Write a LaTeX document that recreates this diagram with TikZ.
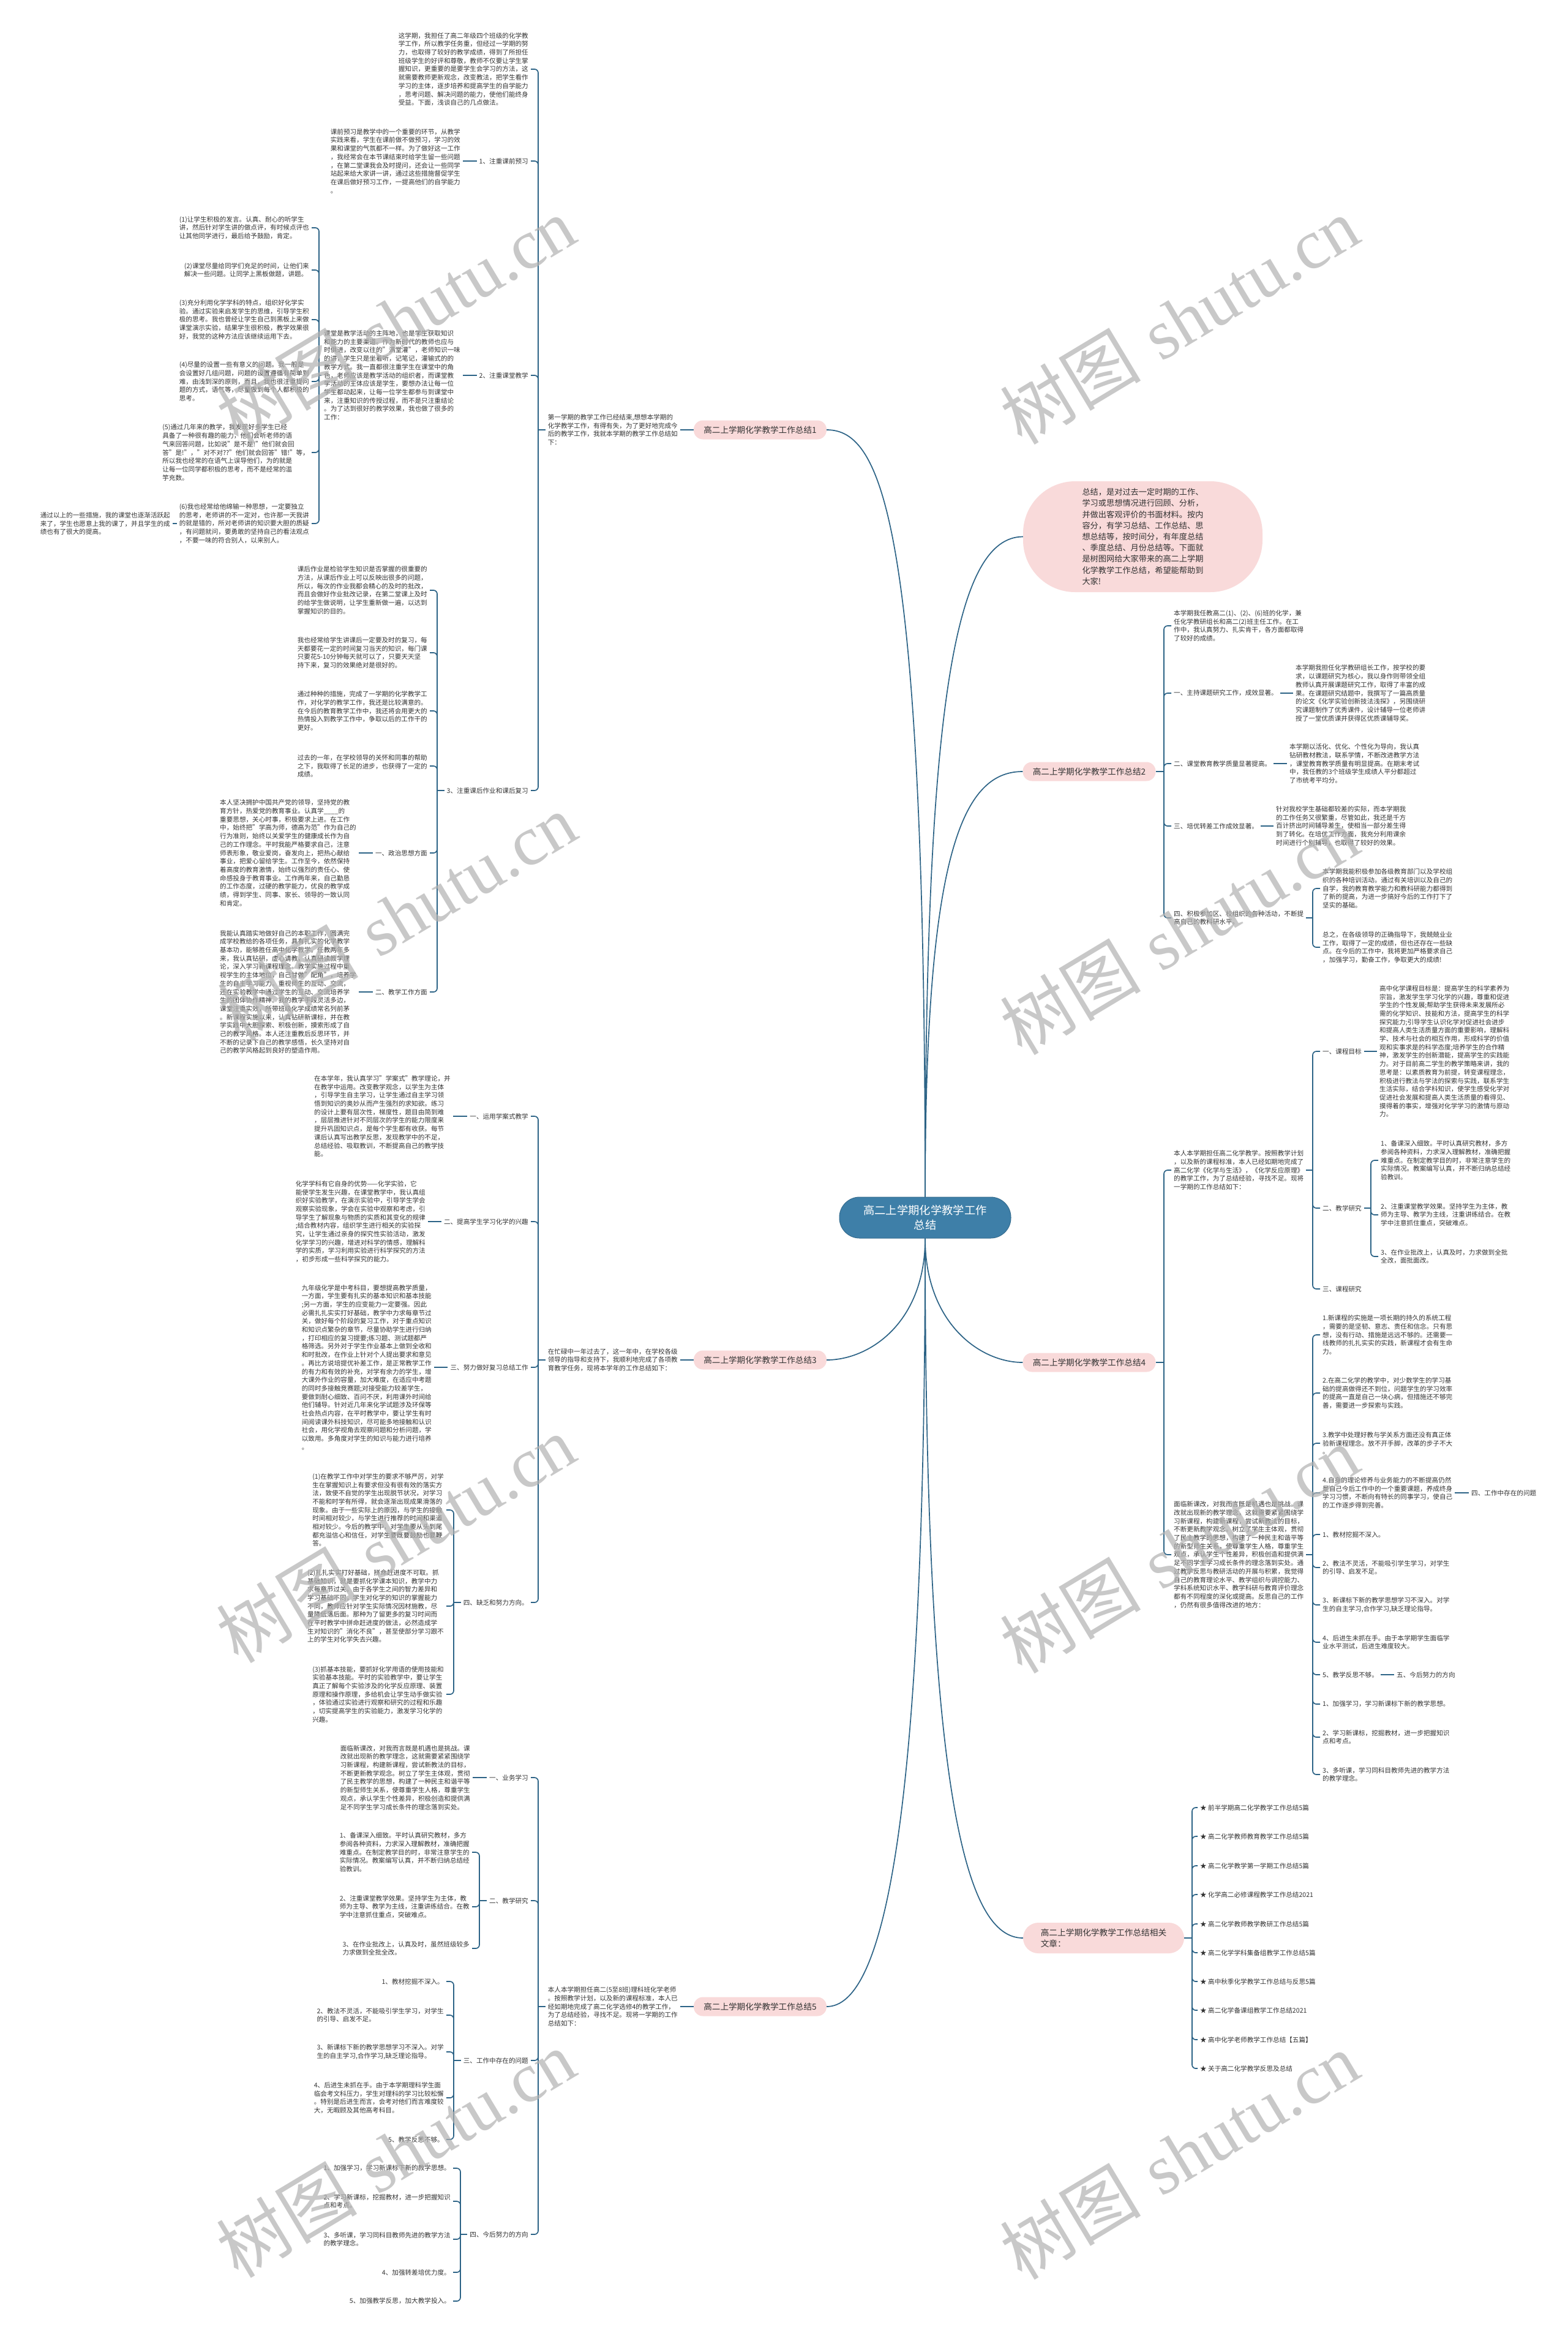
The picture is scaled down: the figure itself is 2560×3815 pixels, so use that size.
\documentclass[tikz,border=0pt]{standalone}
\usepackage{fontspec}
\setmainfont{Noto Sans CJK SC}
\newfontfamily\wmlat{Liberation Serif}
\usetikzlibrary{calc}
\definecolor{linec}{HTML}{2C6386}
\definecolor{pinkc}{HTML}{F9DADA}
\definecolor{ctrc}{HTML}{3E7FA8}
\definecolor{textc}{HTML}{333333}
\newcommand\mfs{\fontsize{10.6}{13.7}\selectfont}
\newcommand\kidsL[3]{%
  \coordinate (#1-x) at (#2,0);
  \coordinate (#1-sp) at (#1.west -| #1-x);
  \draw[link] (#1.west) -- (#1-sp);
  \foreach \k in {#3}{\draw[link,rounded corners=6pt] (#1-sp) |- (\k.east);}%
}
\newcommand\kidsR[3]{%
  \coordinate (#1-x) at (#2,0);
  \coordinate (#1-sp) at (#1.east -| #1-x);
  \draw[link] (#1.east) -- (#1-sp);
  \foreach \k in {#3}{\draw[link,rounded corners=6pt] (#1-sp) |- (\k.west);}%
}
\tikzset{
  link/.style={draw=linec, line width=1.7pt},
  txt/.style={font=\mfs, text=textc, inner xsep=4pt, inner ysep=2pt, align=left},
  tl/.style={txt, anchor=east},
  tr/.style={txt, anchor=west},
  pill/.style={fill=pinkc, rounded corners=15pt, minimum width=217pt, minimum height=31pt, font=\fontsize{13.6}{17}\selectfont, text=textc, inner sep=0pt},
  ctrnode/.style={fill=ctrc, draw=ctrc!85!black, line width=1pt, rounded corners=33pt, minimum width=280pt, minimum height=67pt, text=white, font=\fontsize{18.3}{24}\selectfont, align=center, inner sep=0pt},
  wm/.style={text=black!30, text opacity=0.7, rotate=31, font=\fontsize{115}{115}\selectfont, inner sep=0pt}
}
\begin{document}
\begin{tikzpicture}[x=1pt,y=-1pt]
\fill[white] (0,0) rectangle (2560,3815);
\useasboundingbox (0,0) rectangle (2560,3815);

% ---------- centre ----------
\node[ctrnode] (ctr) at (1511,1988.5) {高二上学期化学教学工作\\总结};

\node[fill=pinkc, rounded corners=85pt, minimum width=391pt, minimum height=181pt, font=\fontsize{13.2}{18.2}\selectfont, text=textc, align=left, inner sep=0pt] (bub) at (1866.5,876.5) {总结，是对过去一定时期的工作、\\学习或思想情况进行回顾、分析，\\并做出客观评价的书面材料。按内\\容分，有学习总结、工作总结、思\\想总结等，按时间分，有年度总结\\、季度总结、月份总结等。下面就\\是树图网给大家带来的高二上学期\\化学教学工作总结，希望能帮助到\\大家!};

\node[pill] (b1) at (1241.5,702) {高二上学期化学教学工作总结1};
\node[pill] (b3) at (1241.5,2221) {高二上学期化学教学工作总结3};
\node[pill] (b5) at (1241.5,3277) {高二上学期化学教学工作总结5};
\node[pill] (b2) at (1779,1260) {高二上学期化学教学工作总结2};
\node[pill] (b4) at (1779,2225) {高二上学期化学教学工作总结4};
\node[pill, rounded corners=25pt, minimum width=263pt, minimum height=50pt, align=left, font=\fontsize{13.7}{18}\selectfont] (rp) at (1802.5,3165) {高二上学期化学教学工作总结相关\\文章：};

\draw[link] (ctr.north) .. controls (1511,1150) and (1560,876.5) .. (bub.west);
\draw[link] (ctr.north) .. controls (1511,850) and (1440,702) .. (b1.east);
\draw[link] (ctr.north) .. controls (1511,1400) and (1570,1260) .. (b2.west);
\draw[link] (ctr.south) .. controls (1511,2160) and (1420,2221) .. (b3.east);
\draw[link] (ctr.south) .. controls (1511,2160) and (1600,2225) .. (b4.west);
\draw[link] (ctr.south) .. controls (1511,3000) and (1440,3277) .. (b5.east);
\draw[link] (ctr.south) .. controls (1511,2950) and (1580,3165) .. (rp.west);

% ---------- branch 1 ----------
\node[tl] (b1i) at (1111,702) {第一学期的教学工作已经结束,想想本学期的\\化学教学工作，有得有失，为了更好地完成今\\后的教学工作，我就本学期的教学工作总结如\\下：};
\draw[link] (b1.west) -- (b1i.east);
\node[tl] (b1a) at (867,113) {这学期，我担任了高二年级四个班级的化学教\\学工作，所以教学任务重，但经过一学期的努\\力，也取得了较好的教学成绩，得到了所担任\\班级学生的好评和尊敬，教师不仅要让学生掌\\握知识，更重要的是要学生会学习的方法，这\\就需要教师更新观念，改变教法，把学生看作\\学习的主体，逐步培养和提高学生的自学能力\\，思考问题、解决问题的能力，使他们能终身\\受益。下面，浅谈自己的几点做法。};
\node[tl] (b1s1) at (867,263) {1、注重课前预习};
\node[tl] (b1s2) at (867,613) {2、注重课堂教学};
\node[tl] (b1s3) at (867,1291) {3、注重课后作业和课后复习};
\kidsL{b1i}{879}{b1a,b1s1,b1s2,b1s3}

\node[tl] (b1s1p) at (756,263) {课前预习是教学中的一个重要的环节，从教学\\实践来看，学生在课前做不做预习，学习的效\\果和课堂的气氛都不一样。为了做好这一工作\\，我经常会在本节课结束时给学生留一些问题\\，在第二堂课我会及时提问，还会让一些同学\\站起来给大家讲一讲，通过这些措施督促学生\\在课后做好预习工作，一提高他们的自学能力\\。};
\draw[link] (b1s1.west) -- (b1s1p.east);

\node[tl] (b1s2p) at (756,613) {课堂是教学活动的主阵地，也是学生获取知识\\和能力的主要渠道。作为新时代的教师也应与\\时俱进，改变以往的"满堂灌"，老师知识一味\\的讲，学生只是坐着听，记笔记，灌输式的的\\教学方式。我一直都很注重学生在课堂中的角\\色，老师应该是教学活动的组织者，而课堂教\\学活动的主体应该是学生，要想办法让每一位\\学生都动起来，让每一位学生都参与到课堂中\\来，注重知识的传授过程，而不是只注重结论\\。为了达到很好的教学效果，我也做了很多的\\工作：};
\draw[link] (b1s2.west) -- (b1s2p.east);
\node[tl] (k1) at (509,372) {(1)让学生积极的发言。认真、耐心的听学生\\讲，然后针对学生讲的做点评，有时候点评也\\让其他同学进行，最后给予鼓励，肯定。};
\node[tl] (k2) at (509,441) {(2)课堂尽量给同学们充足的时间，让他们来\\解决一些问题。让同学上黑板做题，讲题。};
\node[tl] (k3) at (509,522) {(3)充分利用化学学科的特点，组织好化学实\\验。通过实验来启发学生的思维，引导学生积\\极的思考。我也曾经让学生自己到黑板上来做\\课堂演示实验，结果学生很积极，教学效果很\\好，我觉的这种方法应该继续运用下去。};
\node[tl] (k4) at (509,623) {(4)尽量的设置一些有意义的问题。我一般是\\会设置好几组问题，问题的设置遵循有简单到\\难，由浅到深的原则，而且，我也很注重提问\\题的方式，语气等，尽量做到每个人都积极的\\思考。};
\node[tl] (k5) at (509,739) {(5)通过几年来的教学，我发现好多学生已经\\具备了一种很有趣的能力，他们会听老师的语\\气来回答问题，比如说"是不是!"他们就会回\\答"是!"，"对不对??"他们就会回答"错!"等，\\所以我也经常的在语气上误导他们，为的就是\\让每一位同学都积极的思考，而不是经常的滥\\竽充数。};
\node[tl] (k6) at (509,855) {(6)我也经常给他绵输一种思想，一定要独立\\的思考，老师讲的不一定对，也许那一天我讲\\的就是错的，所对老师讲的知识要大胆的质疑\\，有问题就问，要勇敢的坚持自己的看法观点\\，不要一味的符合别人，以来别人。};
\kidsL{b1s2p}{521}{k1,k2,k3,k4,k5,k6}
\node[tl] (k6c) at (282,855) {通过以上的一些措施，我的课堂也逐渐活跃起\\来了，学生也愿意上我的课了，并且学生的成\\绩也有了很大的提高。};
\draw[link] (k6.west) -- (k6c.east);

\node[tl] (q1) at (702,964) {课后作业是检验学生知识是否掌握的很重要的\\方法，从课后作业上可以反映出很多的问题，\\所以，每次的作业我都会精心的及时的批改，\\而且会做好作业批改记录，在第二堂课上及时\\的给学生做说明，让学生重新做一遍，以达到\\掌握知识的目的。};
\node[tl] (q2) at (702,1066) {我也经常给学生讲课后一定要及时的复习，每\\天都要花一定的时间复习当天的知识，每门课\\只要花5-10分钟每天就可以了，只要天天坚\\持下来，复习的效果绝对是很好的。};
\node[tl] (q3) at (702,1161) {通过种种的措施，完成了一学期的化学教学工\\作，对化学的教学工作，我还是比较满意的。\\在今后的教育教学工作中，我还将会用更大的\\热情投入到教学工作中，争取以后的工作干的\\更好。};
\node[tl] (q4) at (702,1251) {过去的一年，在学校领导的关怀和同事的帮助\\之下，我取得了长足的进步，也获得了一定的\\成绩。};
\node[tl] (q5) at (702,1393) {一、政治思想方面};
\node[tl] (q6) at (702,1620) {二、教学工作方面};
\kidsL{b1s3}{714}{q1,q2,q3,q4,q5,q6}
\node[tl] (q5p) at (586,1393) {本人坚决拥护中国共产党的领导，坚持党的教\\育方针，热爱党的教育事业。认真学\_\_\_\_的\\重要思想，关心时事，积极要求上进。在工作\\中，始终把"学高为师，德高为范"作为自己的\\行为准则，始终以关爱学生的健康成长作为自\\己的工作理念。平时我能严格要求自己，注意\\师表形象，敬业爱岗，奋发向上，把热心献给\\事业，把爱心留给学生。工作至今，依然保持\\着高度的教育激情，始终以强烈的责任心、使\\命感投身于教育事业。工作两年来，自己勤恳\\的工作态度，过硬的教学能力，优良的教学成\\绩，得到学生、同事、家长、领导的一致认同\\和肯定。};
\draw[link] (q5.west) -- (q5p.east);
\node[tl] (q6p) at (586,1620) {我能认真踏实地做好自己的本职工作，圆满完\\成学校教给的各项任务，具有扎实的化学教学\\基本功，能够胜任高中化学教学。任教两年多\\来，我认真钻研，虚心请教，认真研读教学理\\论，深入学习新课程理念。教学实施过程中重\\视学生的主体地位，自己甘做"配角"，培养学\\生的自主学习能力。重视师生的互动、交流，\\还在实验教学中通过学生的互动、交流培养学\\生的团体协作精神。我的教学手段灵活多边，\\课堂注重实效，所带班级化学成绩常名列前茅\\。新课程实施以来，认真钻研新课标，并在教\\学实践中大胆探索、积极创新，摸索形成了自\\己的教学风格。本人还注重教后反思环节，并\\不断的记录下自己的教学感悟，长久坚持对自\\己的教学风格起到良好的塑造作用。};
\draw[link] (q6.west) -- (q6p.east);

% ---------- branch 3 ----------
\node[tl] (b3i) at (1111,2221) {在忙碌中一年过去了，这一年中，在学校各级\\领导的指导和支持下，我顺利地完成了各项教\\育教学任务，现将本学年的工作总结如下：};
\draw[link] (b3.west) -- (b3i.east);
\node[tl] (b3s1) at (867,1823) {一、运用学案式教学};
\node[tl] (b3s2) at (867,1995) {二、提高学生学习化学的兴趣};
\node[tl] (b3s3) at (867,2233) {三、努力做好复习总结工作};
\node[tl] (b3s4) at (867,2617) {四、缺乏和努力方向。};
\kidsL{b3i}{879}{b3s1,b3s2,b3s3,b3s4}
\node[tl] (b3s1p) at (740,1823) {在本学年，我认真学习"学案式"教学理论，并\\在教学中运用。改变教学观念，以学生为主体\\，引导学生自主学习，让学生通过自主学习领\\悟到知识的奥妙从而产生强烈的求知欲。练习\\的设计上要有层次性，梯度性，题目由简到难\\，层层推进针对不同层次的学生的能力限度来\\提升巩固知识点，是每个学生都有收获。每节\\课后认真写出教学反思，发现教学中的不足，\\总结经验、吸取教训，不断提高自己的教学技\\能。};
\draw[link] (b3s1.west) -- (b3s1p.east);
\node[tl] (b3s2p) at (699,1995) {化学学科有它自身的优势——化学实验，它\\能使学生发生兴趣，在课堂教学中，我认真组\\织好实验教学，在演示实验中，引导学生学会\\观察实验现象，学会在实验中观察和考虑，引\\导学生了解现象与物质的实质和其变化的规律\\;结合教材内容，组织学生进行相关的实验探\\究，让学生通过亲身的探究性实验活动，激发\\化学学习的兴趣，增进对科学的情感，理解科\\学的实质，学习利用实验进行科学探究的方法\\，初步形成一些科学探究的能力。};
\draw[link] (b3s2.west) -- (b3s2p.east);
\node[tl] (b3s3p) at (709,2233) {九年级化学是中考科目，要想提高教学质量，\\一方面，学生要有扎实的基本知识和基本技能\\;另一方面，学生的应变能力一定要强。因此\\必需扎扎实实打好基础，教学中力求每章节过\\关，做好每个阶段的复习工作，对于重点知识\\和知识点繁杂的章节，尽量协助学生进行归纳\\，打印相应的复习提要;练习题、测试题都严\\格筛选。另外对于学生作业基本上做到全收和\\和时批改，在作业上针对个人提出要求和意见\\。再比方说培提优补差工作，是正常教学工作\\的有力和有效的补充，对学有余力的学生，增\\大课外作业的容量，加大难度，在适应中考题\\的同时多接触竞赛题;对接受能力较差学生，\\要做到耐心细致、百问不厌，利用课外时间给\\他们辅导。针对近几年来化学试题涉及环保等\\社会热点内容，在平时教学中，要让学生有时\\间阅读课外科技知识，尽可能多地接触和认识\\社会，用化学视角去观察问题和分析问题，学\\以致用。多角度对学生的知识与能力进行培养\\。};
\draw[link] (b3s3.west) -- (b3s3p.east);
\node[tl] (r1) at (729,2466) {(1)在教学工作中对学生的要求不够严厉，对学\\生在掌握知识上有要求但没有很有效的落实方\\法，致使不自觉的学生出现脱节状况，对学习\\不能和时学有所得，就会逐渐出现成果滑落的\\现象。由于一些实际上的原因，与学生的接触\\时间相对较少，与学生进行推荐的时间和渠道\\相对较少。今后的教学中，对学生要从头到尾\\都充溢信心和信任，对学生要既要鼓励也要鞭\\答。};
\node[tl] (r2) at (729,2623) {(2)扎扎实实打好基础，拼命赶进度不可取。抓\\基础知识，就是要抓化学课本知识，教学中力\\求每章节过关。由于各学生之间的智力差异和\\学习基础不同，学生对化学的知识的掌握能力\\不同，教师应针对学生实际情况因材施教，尽\\量降低落后面。那种为了留更多的复习时间而\\在平时教学中拼命赶进度的做法，必然造成学\\生对知识的"消化不良"，甚至使部分学习跟不\\上的学生对化学失去兴趣。};
\node[tl] (r3) at (729,2767) {(3)抓基本技能，要抓好化学用语的使用技能和\\实验基本技能。平时的实验教学中，要让学生\\真正了解每个实验涉及的化学反应原理、装置\\原理和操作原理，多给机会让学生动手做实验\\，体验通过实验进行观察和研究的过程和乐趣\\，切实提高学生的实验能力，激发学习化学的\\兴趣。};
\kidsL{b3s4}{741}{r1,r2,r3}

% ---------- branch 5 ----------
\node[tl] (b5i) at (1111,3277) {本人本学期担任高二(5至8班)理科班化学老师\\。按照教学计划，以及新的课程标准，本人已\\经如期地完成了高二化学选修4的教学工作，\\为了总结经验，寻找不足。现将一学期的工作\\总结如下：};
\draw[link] (b5.west) -- (b5i.east);
\node[tl] (b5s1) at (867,2903) {一、业务学习};
\node[tl] (b5s2) at (867,3104) {二、教学研究};
\node[tl] (b5s3) at (867,3365) {三、工作中存在的问题};
\node[tl] (b5s4) at (867,3649) {四、今后努力的方向};
\kidsL{b5i}{879}{b5s1,b5s2,b5s3,b5s4}
\node[tl] (b5s1p) at (772,2903) {面临新课改，对我而言既是机遇也是挑战。课\\改就出现新的教学理念，这就需要紧紧围绕学\\习新课程，构建新课程，尝试新教法的目标，\\不断更新教学观念。树立了学生主体观，贯彻\\了民主教学的思想，构建了一种民主和谐平等\\的新型师生关系，使尊重学生人格，尊重学生\\观点，承认学生个性差异，积极创造和提供满\\足不同学生学习成长条件的理念落到实处。};
\draw[link] (b5s1.west) -- (b5s1p.east);
\node[tl] (s1) at (771,3025) {1、备课深入细致。平时认真研究教材，多方\\参阅各种资料，力求深入理解教材，准确把握\\难重点。在制定教学目的时，非常注意学生的\\实际情况。教案编写认真，并不断归纳总结经\\验教训。};
\node[tl] (s2) at (771,3114) {2、注重课堂教学效果。坚持学生为主体，教\\师为主导、教学为主线，注重讲练结合。在教\\学中注意抓住重点，突破难点。};
\node[tl] (s3) at (771,3182) {3、在作业批改上，认真及时，虽然班级较多\\力求做到全批全改。};
\kidsL{b5s2}{783}{s1,s2,s3}
\node[tl] (t1) at (729,3236) {1、教材挖掘不深入。};
\node[tl] (t2) at (729,3291) {2、教法不灵活，不能吸引学生学习，对学生\\的引导、启发不足。};
\node[tl] (t3) at (729,3351) {3、新课标下新的教学思想学习不深入。对学\\生的自主学习,合作学习,缺乏理论指导。};
\node[tl] (t4) at (729,3426) {4、后进生未抓在手。由于本学期理科学生面\\临会考文科压力，学生对理科的学习比较松懈\\。特别是后进生而言，会考对他们而言难度较\\大，无暇顾及其他高考科目。};
\node[tl] (t5) at (729,3494) {5、教学反思不够。};
\kidsL{b5s3}{741}{t1,t2,t3,t4,t5}
\node[tl] (u1) at (740,3541) {1、加强学习，学习新课标下新的教学思想。};
\node[tl] (u2) at (740,3595) {2、学习新课标，挖掘教材，进一步把握知识\\点和考点。};
\node[tl] (u3) at (740,3657) {3、多听课，学习同科目教师先进的教学方法\\的教学理念。};
\node[tl] (u4) at (740,3711) {4、加强转差培优力度。};
\node[tl] (u5) at (740,3758) {5、加强教学反思，加大教学投入。};
\kidsL{b5s4}{752}{u1,u2,u3,u4,u5}

% ---------- branch 2 ----------
\node[tr] (c1) at (1913,1022) {本学期我任教高二(1)、(2)、(6)班的化学，兼\\任化学教研组长和高二(2)班主任工作。在工\\作中，我认真努力、扎实肯干，各方面都取得\\了较好的成绩。};
\node[tr] (c2) at (1913,1132) {一、主持课题研究工作，成效显著。};
\node[tr] (c3) at (1913,1247) {二、课堂教育教学质量显著提高。};
\node[tr] (c4) at (1913,1349) {三、培优转差工作成效显著。};
\node[tr] (c5) at (1913,1499) {四、积极参加区、校组织的各种活动，不断提\\高自己的教科研水平。};
\kidsR{b2}{1901}{c1,c2,c3,c4,c5}
\node[tr] (c2p) at (2112,1132) {本学期我担任化学教研组长工作，按学校的要\\求，以课题研究为核心，我以身作则带领全组\\教师认真开展课题研究工作，取得了丰富的成\\果。在课题研究结题中，我撰写了一篇高质量\\的论文《化学实验创新技法浅探》，另围绕研\\究课题制作了优秀课件，设计辅导一位老师讲\\授了一堂优质课并获得区优质课辅导奖。};
\draw[link] (c2.east) -- (c2p.west);
\node[tr] (c3p) at (2102,1247) {本学期以活化、优化、个性化为导向，我认真\\钻研教材教法，联系学情，不断改进教学方法\\，课堂教育教学质量有明显提高。在期末考试\\中，我任教的3个班级学生成绩人平分都超过\\了市统考平均分。};
\draw[link] (c3.east) -- (c3p.west);
\node[tr] (c4p) at (2080,1349) {针对我校学生基础都较差的实际，而本学期我\\的工作任务又很繁重，尽管如此，我还是千方\\百计挤出时间辅导差生，使相当一部分差生得\\到了转化。在培优工作方面，我充分利用课余\\时间进行个别辅导，也取得了较好的效果。};
\draw[link] (c4.east) -- (c4p.west);
\node[tr] (c5a) at (2156,1451) {本学期我能积极参加各级教育部门以及学校组\\织的各种培训活动。通过有关培训以及自己的\\自学，我的教育教学能力和教科研能力都得到\\了新的提高，为进一步搞好今后的工作打下了\\坚实的基础。};
\node[tr] (c5b) at (2156,1547) {总之，在各级领导的正确指导下，我兢兢业业\\工作，取得了一定的成绩，但也还存在一些缺\\点。在今后的工作中，我将更加严格要求自己\\，加强学习，勤奋工作，争取更大的成绩!};
\kidsR{c5}{2144}{c5a,c5b}

% ---------- branch 4 ----------
\node[tr] (d1) at (1913,1911) {本人本学期担任高二化学教学。按照教学计划\\，以及新的课程标准，本人已经如期地完成了\\高二化学《化学与生活》，《化学反应原理》\\的教学工作，为了总结经验，寻找不足。现将\\一学期的工作总结如下：};
\node[tr] (d2) at (1913,2539) {面临新课改，对我而言既是机遇也是挑战。课\\改就出现新的教学理念，这就需要紧紧围绕学\\习新课程，构建新课程，尝试新教法的目标，\\不断更新教学观念。树立了学生主体观，贯彻\\了民主教学的思想，构建了一种民主和谐平等\\的新型师生关系，使尊重学生人格，尊重学生\\观点，承认学生个性差异，积极创造和提供满\\足不同学生学习成长条件的理念落到实处。通\\过教学反思与教研活动的开展与积累，我觉得\\自己的教育理论水平、教学组织与调控能力、\\学科系统知识水平、教学科研与教育评价理念\\都有不同程度的深化或提高。反思自己的工作\\，仍然有很多值得改进的地方：};
\kidsR{b4}{1901}{d1,d2}
\node[tr] (e1) at (2156,1717) {一、课程目标};
\node[tr] (e2) at (2156,1973) {二、教学研究};
\node[tr] (e3) at (2156,2105) {三、课程研究};
\kidsR{d1}{2144}{e1,e2,e3}
\node[tr] (e1p) at (2249,1717) {高中化学课程目标是：提高学生的科学素养为\\宗旨，激发学生学习化学的兴趣，尊重和促进\\学生的个性发展;帮助学生获得未来发展所必\\需的化学知识、技能和方法，提高学生的科学\\探究能力;引导学生认识化学对促进社会进步\\和提高人类生活质量方面的重要影响，理解科\\学、技术与社会的相互作用，形成科学的价值\\观和实事求是的科学态度;培养学生的合作精\\神，激发学生的创新潜能，提高学生的实践能\\力。对于目前高二学生的教学策略来讲，我的\\思考是：以素质教育为前提，转变课程理念，\\积极进行教法与学法的探索与实践，联系学生\\生活实际，结合学科知识，使学生感受化学对\\促进社会发展和提高人类生活质量的看得见、\\摸得着的事实，增强对化学学习的激情与原动\\力。};
\draw[link] (e1.east) -- (e1p.west);
\node[tr] (f1) at (2251,1895) {1、备课深入细致。平时认真研究教材，多方\\参阅各种资料，力求深入理解教材，准确把握\\难重点。在制定教学目的时，非常注意学生的\\实际情况。教案编写认真，并不断归纳总结经\\验教训。};
\node[tr] (f2) at (2251,1984) {2、注重课堂教学效果。坚持学生为主体，教\\师为主导、教学为主线，注重讲练结合。在教\\学中注意抓住重点，突破难点。};
\node[tr] (f3) at (2251,2052) {3、在作业批改上，认真及时，力求做到全批\\全改，面批面改。};
\kidsR{e2}{2239}{f1,f2,f3}

\node[tr] (m1) at (2156,2180) {1.新课程的实施是一项长期的持久的系统工程\\，需要的是坚韧、意志、责任和信念。只有思\\想，没有行动、措施是远远不够的。还需要一\\线教师的扎扎实实的实践，新课程才会有生命\\力。};
\node[tr] (m2) at (2156,2275) {2.在高二化学的教学中，对少数学生的学习基\\础的提高做得还不到位，问题学生的学习效率\\的提高一直是自己一块心病，但措施还不够完\\善，需要进一步探索与实践。};
\node[tr] (m3) at (2156,2357) {3.教学中处理好教与学关系方面还没有真正体\\验新课程理念。放不开手脚，改革的步子不大\\。};
\node[tr] (m4) at (2156,2438) {4.自身的理论修养与业务能力的不断提高仍然\\是自己今后工作中的一个重要课题，养成终身\\学习习惯，不断向有特长的同事学习，使自己\\的工作逐步得到完善。};
\node[tr] (m5) at (2156,2506) {1、教材挖掘不深入。};
\node[tr] (m6) at (2156,2560) {2、教法不灵活，不能吸引学生学习，对学生\\的引导、启发不足。};
\node[tr] (m7) at (2156,2621) {3、新课标下新的教学思想学习不深入。对学\\生的自主学习,合作学习,缺乏理论指导。};
\node[tr] (m8) at (2156,2682) {4、后进生未抓在手。由于本学期学生面临学\\业水平测试，后进生难度较大。};
\node[tr] (m9) at (2156,2735) {5、教学反思不够。};
\node[tr] (m10) at (2156,2783) {1、加强学习，学习新课标下新的教学思想。};
\node[tr] (m11) at (2156,2837) {2、学习新课标，挖掘教材，进一步把握知识\\点和考点。};
\node[tr] (m12) at (2156,2898) {3、多听课，学习同科目教师先进的教学方法\\的教学理念。};
\kidsR{d2}{2144}{m1,m2,m3,m4,m5,m6,m7,m8,m9,m10,m11,m12}
\node[tr] (m4c) at (2399,2438) {四、工作中存在的问题};
\draw[link] (m4.east) -- (m4c.west);
\node[tr] (m9c) at (2277,2735) {五、今后努力的方向};
\draw[link] (m9.east) -- (m9c.west);

% ---------- related ----------
\node[tr] (g1) at (1956,2952) {★ 前半学期高二化学教学工作总结5篇};
\node[tr] (g2) at (1956,2999) {★ 高二化学教师教育教学工作总结5篇};
\node[tr] (g3) at (1956,3047) {★ 高二化学教学第一学期工作总结5篇};
\node[tr] (g4) at (1956,3094) {★ 化学高二必修课程教学工作总结2021};
\node[tr] (g5) at (1956,3142) {★ 高二化学教师教学教研工作总结5篇};
\node[tr] (g6) at (1956,3189) {★ 高二化学学科集备组教学工作总结5篇};
\node[tr] (g7) at (1956,3236) {★ 高中秋季化学教学工作总结与反思5篇};
\node[tr] (g8) at (1956,3283) {★ 高二化学备课组教学工作总结2021};
\node[tr] (g9) at (1956,3331) {★ 高中化学老师教学工作总结【五篇】};
\node[tr] (g10) at (1956,3378) {★ 关于高二化学教学反思及总结};
\kidsR{rp}{1947}{g1,g2,g3,g4,g5,g6,g7,g8,g9,g10}

% ---------- watermarks ----------
\foreach \wx/\wy [count=\i] in {646/523,648/1497,646/2513,646/3517,1926/523,1926/1520,1926/2530,1926/3520}{
  \node[wm] (wm\i) at (\wx,\wy) {树图\hspace{0.3em}{\wmlat shutu.cn}};
}
\end{tikzpicture}
\end{document}
